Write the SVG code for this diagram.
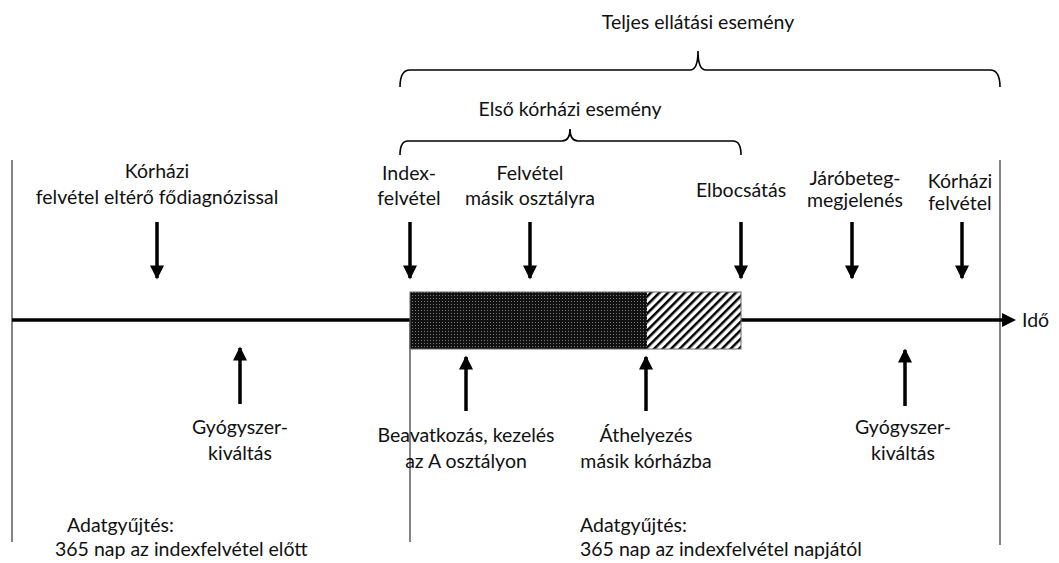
<svg xmlns="http://www.w3.org/2000/svg" width="1059" height="563" viewBox="0 0 1059 563">
<style>
text{font-family:"Lato","Open Sans","Liberation Sans",sans-serif;font-size:19.5px;fill:#111;}
.c{text-anchor:middle;}
.vl{stroke:#333;stroke-width:1.2;fill:none;}
.ar{stroke:#000;stroke-width:3.5;fill:none;}
.br{stroke:#000;stroke-width:1.6;fill:none;}
</style>
<defs>
<marker id="ah" viewBox="0 0 10 10" refX="9" refY="5" markerWidth="4.2" markerHeight="4" markerUnits="strokeWidth" orient="auto">
<path d="M0,0 L10,5 L0,10 z" fill="#000"/>
</marker>
<pattern id="dots" width="3" height="3" patternUnits="userSpaceOnUse">
<rect width="3" height="3" fill="#111"/>
<rect x="1" y="1" width="1" height="1" fill="#777"/>
</pattern>
<pattern id="hatch" width="6" height="6" patternUnits="userSpaceOnUse" patternTransform="rotate(45)">
<rect width="6" height="6" fill="#fff"/>
<rect x="0" y="0" width="2.5" height="6" fill="#000"/>
</pattern>
</defs>

<g id="frame">
<line class="vl" x1="12" y1="160" x2="12" y2="542"/>
<line class="vl" x1="410" y1="320" x2="410" y2="542"/>
<line class="vl" x1="1000" y1="160" x2="1000" y2="545"/>
</g>

<g id="timeline">
<line x1="12" y1="320" x2="1003" y2="320" stroke="#000" stroke-width="3.5"/>
<path d="M1002,313 L1016,320 L1002,327 z" fill="#000"/>
<text x="1022" y="327">Idő</text>
</g>

<g id="bar">
<rect x="410" y="292" width="237" height="57" fill="url(#dots)"/>
<rect x="647" y="292" width="94" height="57" fill="url(#hatch)"/>
<rect x="410" y="292" width="331" height="57" fill="none" stroke="#666" stroke-width="1"/>
</g>

<g id="braces">
<path class="br" d="M400,87 Q400,70 410,70 L690,70 Q698,70 698,51 Q698,70 706,70 L990,70 Q1000,70 1000,87"/>
<text class="c" x="698" y="29">Teljes ellátási esemény</text>
<path class="br" d="M400,155 Q400,141 408,141 L562,141 Q570,141 570,129 Q570,141 578,141 L733,141 Q741,141 741,155"/>
<text class="c" x="570" y="116">Első kórházi esemény</text>
</g>

<g id="connectors">
<line class="ar" x1="157" y1="222" x2="157" y2="278" marker-end="url(#ah)"/>
<line class="ar" x1="410" y1="222" x2="410" y2="278" marker-end="url(#ah)"/>
<line class="ar" x1="530" y1="222" x2="530" y2="278" marker-end="url(#ah)"/>
<line class="ar" x1="741" y1="222" x2="741" y2="278" marker-end="url(#ah)"/>
<line class="ar" x1="852" y1="222" x2="852" y2="278" marker-end="url(#ah)"/>
<line class="ar" x1="962" y1="222" x2="962" y2="278" marker-end="url(#ah)"/>
<line class="ar" x1="240" y1="404" x2="240" y2="348" marker-end="url(#ah)"/>
<line class="ar" x1="466" y1="411" x2="466" y2="357" marker-end="url(#ah)"/>
<line class="ar" x1="646" y1="411" x2="646" y2="357" marker-end="url(#ah)"/>
<line class="ar" x1="905" y1="406" x2="905" y2="350" marker-end="url(#ah)"/>
</g>

<g id="n-korhazi-elotte">
<text class="c" x="157" y="178">Kórházi</text>
<text class="c" x="157" y="204">felvétel eltérő fődiagnózissal</text>
</g>
<g id="n-index">
<text class="c" x="409" y="180">Index-</text>
<text class="c" x="409" y="205">felvétel</text>
</g>
<g id="n-masik-osztaly">
<text class="c" x="530" y="180">Felvétel</text>
<text class="c" x="530" y="205">másik osztályra</text>
</g>
<g id="n-elbocsatas">
<text class="c" x="741" y="197">Elbocsátás</text>
</g>
<g id="n-jarobeteg">
<text class="c" x="855" y="185">Járóbeteg-</text>
<text class="c" x="855" y="207">megjelenés</text>
</g>
<g id="n-korhazi-felvetel">
<text class="c" x="960" y="188">Kórházi</text>
<text class="c" x="960" y="210">felvétel</text>
</g>
<g id="n-gyogyszer-1">
<text class="c" x="240" y="434">Gyógyszer-</text>
<text class="c" x="240" y="460">kiváltás</text>
</g>
<g id="n-beavatkozas">
<text class="c" x="466" y="442">Beavatkozás, kezelés</text>
<text class="c" x="466" y="468">az A osztályon</text>
</g>
<g id="n-athelyezes">
<text class="c" x="646" y="442">Áthelyezés</text>
<text class="c" x="646" y="468">másik kórházba</text>
</g>
<g id="n-gyogyszer-2">
<text class="c" x="903" y="434">Gyógyszer-</text>
<text class="c" x="903" y="460">kiváltás</text>
</g>
<g id="n-adat-elotte">
<text x="67" y="532">Adatgyűjtés:</text>
<text x="55" y="556">365 nap az indexfelvétel előtt</text>
</g>
<g id="n-adat-utana">
<text x="580" y="532">Adatgyűjtés:</text>
<text x="580" y="556">365 nap az indexfelvétel napjától</text>
</g>
</svg>
